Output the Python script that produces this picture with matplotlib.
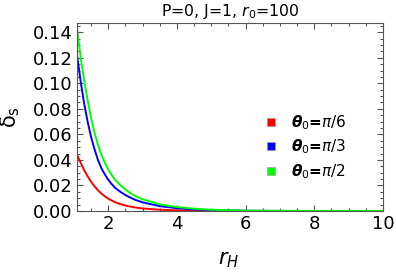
import numpy as np
import matplotlib
matplotlib.use("Agg")
import matplotlib.pyplot as plt
from matplotlib.ticker import MultipleLocator, FormatStrFormatter
from matplotlib.lines import Line2D

# values
r_H = [1.09, 1.2, 1.3, 1.4, 1.5, 1.6, 1.7, 1.8, 1.9, 2.0, 2.1, 2.2, 2.35,
       2.5, 2.65, 2.8, 3.0, 3.5, 4.0, 4.5, 5.0, 6.0, 7.0, 8.0, 10.0]
delta_pi6 = [0.0443, 0.0375, 0.0320, 0.0272, 0.0230, 0.0194, 0.0163, 0.0137,
             0.0115, 0.0097, 0.0082, 0.0069, 0.0054, 0.0043, 0.0034, 0.0027,
             0.0020, 0.0010, 0.0005, 0.00025, 0.00012, 0.00003, 0.00001,
             0.0, 0.0]
delta_pi3 = [0.1224, 0.101, 0.084, 0.070, 0.058, 0.0485, 0.040, 0.0335,
             0.0287, 0.0245, 0.0211, 0.0182, 0.0151, 0.0125, 0.0104, 0.0086,
             0.0068, 0.0038, 0.0022, 0.0012, 0.0007, 0.0002, 0.00006,
             0.00002, 0.0]
delta_pi2 = [0.1434, 0.120, 0.102, 0.087, 0.073, 0.0615, 0.052, 0.044,
             0.0380, 0.0325, 0.0283, 0.0245, 0.0203, 0.0168, 0.0140, 0.0116,
             0.0092, 0.0052, 0.0031, 0.0018, 0.0010, 0.0003, 0.0001,
             0.00003, 0.0]
labels = [r'$\boldsymbol{\theta}_0$=$\pi/6$',
          r'$\boldsymbol{\theta}_0$=$\pi/3$',
          r'$\boldsymbol{\theta}_0$=$\pi/2$']
colors = ['#ff0000', '#0000ff', '#00ff00']

plt.rcParams['font.family'] = 'DejaVu Sans'
plt.rcParams['mathtext.fontset'] = 'dejavusans'

fig = plt.figure(figsize=(3.96, 2.72), dpi=100)
ax = fig.add_axes([0.1944, 0.2243, 0.7726, 0.6922])

for ys, c in zip([delta_pi6, delta_pi3, delta_pi2], colors):
    ax.plot(r_H, ys, color=c, lw=1.4)

ax.set_xlim(1.09, 10)
ax.set_ylim(0, 0.1475)
ax.xaxis.set_major_locator(MultipleLocator(2))
ax.xaxis.set_minor_locator(MultipleLocator(0.5))
ax.yaxis.set_major_locator(MultipleLocator(0.02))
ax.yaxis.set_minor_locator(MultipleLocator(0.005))
ax.yaxis.set_major_formatter(FormatStrFormatter('%.2f'))
ax.tick_params(which='both', direction='in', top=True, right=True,
               color='#555555', labelsize=13, pad=3)
ax.tick_params(which='major', length=4.5, width=0.8)
ax.tick_params(which='minor', length=2.5, width=0.8)
for s in ax.spines.values():
    s.set_color('#555555')
    s.set_linewidth(0.8)

ax.set_title(r'P=0, J=1, $r_0$=100', fontsize=11.3, pad=5)
fig.text(0.576, 0.043, r'$r_H$', fontsize=15, ha='center', va='center')
fig.text(0.027, 0.57, r'$\mathrm{\delta}_\mathrm{s}$', fontsize=15,
         rotation=90, ha='center', va='center')

handles = [Line2D([], [], ls='none', marker='s', markersize=5.5,
                  markerfacecolor=c, markeredgecolor='#999999',
                  markeredgewidth=0.4) for c in colors]
ax.legend(handles, labels, loc='upper left', bbox_to_anchor=(0.668, 0.585),
          bbox_transform=fig.transFigure, frameon=False,
          prop={'size': 11, 'weight': 'bold'},
          handlelength=0.8, handletextpad=0.9, labelspacing=0.38,
          borderpad=0, borderaxespad=0)

fig.savefig('out.png', dpi=100)
